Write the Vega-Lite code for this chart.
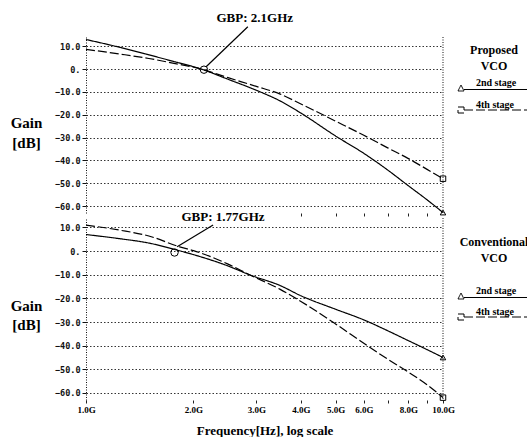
{
  "$schema": "https://vega.github.io/schema/vega-lite/v6.json",
  "background": "white",
  "padding": {"left": 10, "top": 12, "right": 0, "bottom": 0},
  "bounds": "flush",
  "spacing": 5,
  "config": {"view": {"stroke": null}, "font": "Liberation Serif"},
  "datasets": {
    "curves": [
      {"panel": "P", "stage": "2nd stage", "f": 1.0, "db": 12.9},
      {"panel": "P", "stage": "2nd stage", "f": 1.25, "db": 9.4},
      {"panel": "P", "stage": "2nd stage", "f": 1.5, "db": 6.2},
      {"panel": "P", "stage": "2nd stage", "f": 1.75, "db": 3.4},
      {"panel": "P", "stage": "2nd stage", "f": 2.1, "db": 0.0},
      {"panel": "P", "stage": "2nd stage", "f": 2.5, "db": -4.5},
      {"panel": "P", "stage": "2nd stage", "f": 3.0, "db": -9.3},
      {"panel": "P", "stage": "2nd stage", "f": 3.5, "db": -14.0},
      {"panel": "P", "stage": "2nd stage", "f": 4.0, "db": -19.3},
      {"panel": "P", "stage": "2nd stage", "f": 5.0, "db": -29.3},
      {"panel": "P", "stage": "2nd stage", "f": 6.0, "db": -36.9},
      {"panel": "P", "stage": "2nd stage", "f": 7.0, "db": -44.2},
      {"panel": "P", "stage": "2nd stage", "f": 8.0, "db": -51.1},
      {"panel": "P", "stage": "2nd stage", "f": 9.0, "db": -57.1},
      {"panel": "P", "stage": "2nd stage", "f": 10.0, "db": -62.8},
      {"panel": "P", "stage": "4th stage", "f": 1.0, "db": 8.6},
      {"panel": "P", "stage": "4th stage", "f": 1.25, "db": 6.5},
      {"panel": "P", "stage": "4th stage", "f": 1.5, "db": 4.6},
      {"panel": "P", "stage": "4th stage", "f": 1.75, "db": 2.6},
      {"panel": "P", "stage": "4th stage", "f": 2.1, "db": 0.0},
      {"panel": "P", "stage": "4th stage", "f": 2.5, "db": -3.8},
      {"panel": "P", "stage": "4th stage", "f": 3.0, "db": -7.6},
      {"panel": "P", "stage": "4th stage", "f": 3.5, "db": -11.0},
      {"panel": "P", "stage": "4th stage", "f": 4.0, "db": -15.3},
      {"panel": "P", "stage": "4th stage", "f": 5.0, "db": -22.8},
      {"panel": "P", "stage": "4th stage", "f": 6.0, "db": -29.0},
      {"panel": "P", "stage": "4th stage", "f": 7.0, "db": -34.5},
      {"panel": "P", "stage": "4th stage", "f": 8.0, "db": -39.2},
      {"panel": "P", "stage": "4th stage", "f": 9.0, "db": -43.8},
      {"panel": "P", "stage": "4th stage", "f": 10.0, "db": -48.0},
      {"panel": "C", "stage": "2nd stage", "f": 1.0, "db": 7.0},
      {"panel": "C", "stage": "2nd stage", "f": 1.25, "db": 5.2},
      {"panel": "C", "stage": "2nd stage", "f": 1.5, "db": 3.4},
      {"panel": "C", "stage": "2nd stage", "f": 1.78, "db": 0.6},
      {"panel": "C", "stage": "2nd stage", "f": 2.0, "db": -1.5},
      {"panel": "C", "stage": "2nd stage", "f": 2.5, "db": -6.3},
      {"panel": "C", "stage": "2nd stage", "f": 2.88, "db": -10.1},
      {"panel": "C", "stage": "2nd stage", "f": 3.5, "db": -14.6},
      {"panel": "C", "stage": "2nd stage", "f": 4.0, "db": -18.9},
      {"panel": "C", "stage": "2nd stage", "f": 5.0, "db": -24.6},
      {"panel": "C", "stage": "2nd stage", "f": 6.0, "db": -29.1},
      {"panel": "C", "stage": "2nd stage", "f": 7.0, "db": -33.7},
      {"panel": "C", "stage": "2nd stage", "f": 8.0, "db": -37.9},
      {"panel": "C", "stage": "2nd stage", "f": 9.0, "db": -41.6},
      {"panel": "C", "stage": "2nd stage", "f": 10.0, "db": -45.0},
      {"panel": "C", "stage": "4th stage", "f": 1.0, "db": 11.0},
      {"panel": "C", "stage": "4th stage", "f": 1.25, "db": 8.8},
      {"panel": "C", "stage": "4th stage", "f": 1.5, "db": 6.4},
      {"panel": "C", "stage": "4th stage", "f": 1.83, "db": 1.8},
      {"panel": "C", "stage": "4th stage", "f": 2.0, "db": 0.2},
      {"panel": "C", "stage": "4th stage", "f": 2.5, "db": -5.5},
      {"panel": "C", "stage": "4th stage", "f": 2.88, "db": -10.1},
      {"panel": "C", "stage": "4th stage", "f": 3.5, "db": -16.2},
      {"panel": "C", "stage": "4th stage", "f": 4.0, "db": -21.3},
      {"panel": "C", "stage": "4th stage", "f": 5.0, "db": -30.8},
      {"panel": "C", "stage": "4th stage", "f": 6.0, "db": -39.0},
      {"panel": "C", "stage": "4th stage", "f": 7.0, "db": -45.7},
      {"panel": "C", "stage": "4th stage", "f": 8.0, "db": -51.2},
      {"panel": "C", "stage": "4th stage", "f": 9.0, "db": -56.4},
      {"panel": "C", "stage": "4th stage", "f": 10.0, "db": -62.0}
    ],
    "gbp": [
      {"panel": "P", "f": 2.14, "db": -0.3},
      {"panel": "C", "f": 1.77, "db": -0.6}
    ],
    "arrows": [
      {"panel": "P", "f": 2.84, "db": 18.5, "f2": 2.17, "db2": 1.0},
      {"panel": "C", "f": 2.27, "db": 11.0, "f2": 1.8, "db2": 1.8}
    ],
    "labels": [
      {"panel": "P", "f": 2.97, "db": 22.2, "text": "GBP: 2.1GHz"},
      {"panel": "C", "f": 2.42, "db": 14.4, "text": "GBP: 1.77GHz"}
    ]
  },
  "resolve": {"scale": {"x": "independent", "y": "independent", "strokeDash": "independent", "shape": "independent"}},
  "vconcat": [
    {
      "width": 357,
      "height": 176,
      "layer": [
        {
          "data": {"name": "curves"},
          "transform": [{"filter": "datum.panel === 'P'"}],
          "mark": {"type": "line", "color": "black", "strokeWidth": 1.2, "interpolate": "monotone"},
          "encoding": {
            "x": {"field": "f", "type": "quantitative", "scale": {"type": "log", "domain": [1, 10], "nice": false},
              "axis": {"values": [4, 5, 6, 7, 8, 9], "tickCount": 10, "labels": false, "domain": false, "grid": false, "tickSize": 3, "tickColor": "#222", "title": null}},
            "y": {"field": "db", "type": "quantitative", "scale": {"domain": [-63, 14], "nice": false, "zero": false},
              "axis": {"values": [-60, -50, -40, -30, -20, -10, 0, 10], "tickCount": 10, "labelOverlap": false,
                "labelExpr": "datum.value === 0 ? '0.' : format(datum.value, '.1f')",
                "labelFont": "DejaVu Sans Mono", "labelFontSize": 8.5, "labelFontWeight": "bold", "labelColor": "#111", "labelPadding": 2,
                "grid": true, "gridDash": [1.5, 2], "gridColor": "#111", "gridOpacity": 0.85,
                "tickSize": 4, "tickColor": "#111", "domainDash": [1, 1.5], "domainColor": "#111",
                "title": ["Gain", "[dB]"], "titleAngle": 0, "titleAlign": "center", "titleBaseline": "alphabetic",
                "titleX": -60, "titleY": 90, "titleFont": "Liberation Serif", "titleFontSize": 15, "titleFontWeight": "bold",
                "titleLineHeight": 20, "titleColor": "black"}},
            "strokeDash": {"field": "stage", "type": "nominal",
              "scale": {"domain": ["2nd stage", "4th stage"], "range": [[1, 0], [9, 3]]},
              "legend": {"title": ["Proposed", "VCO"], "orient": "none", "legendX": 370, "legendY": 8, "padding": 0,
                "titleFont": "Liberation Serif", "titleFontSize": 12, "titleFontWeight": "bold", "titleColor": "black",
                "titleAnchor": "middle", "titleAlign": "center", "titleLineHeight": 16, "titlePadding": 10,
                "labelFont": "Liberation Serif", "labelFontSize": 10, "labelFontWeight": "bold", "labelColor": "black",
                "labelBaseline": "bottom", "labelOffset": 10,
                "symbolSize": 36, "symbolStrokeColor": "black", "symbolStrokeWidth": 1, "symbolFillColor": "transparent",
                "rowPadding": 7}}
          }
        },
        {
          "data": {"name": "curves"},
          "transform": [{"filter": "datum.panel === 'P' && datum.f > 100"}],
          "mark": {"type": "point", "color": "black", "filled": false, "size": 36, "strokeWidth": 1, "opacity": 1},
          "encoding": {
            "x": {"field": "f", "type": "quantitative"},
            "y": {"field": "db", "type": "quantitative"},
            "shape": {"field": "stage", "type": "nominal",
              "scale": {"domain": ["2nd stage", "4th stage"], "range": ["M-1,1L0,-1L1,1ZM1,0.5L23,0.5", "M-1,-1L1,-1L1,1L-1,1ZM1,0L23,0"]},
              "legend": {"title": ["Proposed", "VCO"], "orient": "none", "legendX": 370, "legendY": 8, "padding": 0,
                "titleFont": "Liberation Serif", "titleFontSize": 12, "titleFontWeight": "bold", "titleColor": "black",
                "titleAnchor": "middle", "titleAlign": "center", "titleLineHeight": 16, "titlePadding": 10,
                "labelFont": "Liberation Serif", "labelFontSize": 10, "labelFontWeight": "bold", "labelColor": "black",
                "labelBaseline": "bottom", "labelOffset": 10,
                "symbolSize": 36, "symbolStrokeColor": "black", "symbolStrokeWidth": 1, "symbolFillColor": "transparent",
                "rowPadding": 7}}
          }
        },
        {
          "data": {"name": "curves"},
          "transform": [{"filter": "datum.panel === 'P' && datum.f === 10 && datum.stage === '2nd stage'"}],
          "mark": {"type": "point", "shape": "triangle-up", "color": "black", "filled": false, "size": 30, "strokeWidth": 1, "opacity": 1},
          "encoding": {"x": {"field": "f", "type": "quantitative"}, "y": {"field": "db", "type": "quantitative"}}
        },
        {
          "data": {"name": "curves"},
          "transform": [{"filter": "datum.panel === 'P' && datum.f === 10 && datum.stage === '4th stage'"}],
          "mark": {"type": "point", "shape": "square", "color": "black", "filled": false, "size": 30, "strokeWidth": 1, "opacity": 1},
          "encoding": {"x": {"field": "f", "type": "quantitative"}, "y": {"field": "db", "type": "quantitative"}}
        },
        {
          "data": {"name": "gbp"},
          "transform": [{"filter": "datum.panel === 'P'"}],
          "mark": {"type": "point", "shape": "circle", "color": "black", "filled": false, "size": 55, "strokeWidth": 1, "opacity": 1},
          "encoding": {"x": {"field": "f", "type": "quantitative"}, "y": {"field": "db", "type": "quantitative"}}
        },
        {
          "data": {"name": "arrows"},
          "transform": [{"filter": "datum.panel === 'P'"}],
          "mark": {"type": "rule", "color": "black", "strokeWidth": 1.2},
          "encoding": {"x": {"field": "f", "type": "quantitative"}, "y": {"field": "db", "type": "quantitative"},
            "x2": {"field": "f2"}, "y2": {"field": "db2"}}
        },
        {
          "data": {"name": "labels"},
          "transform": [{"filter": "datum.panel === 'P'"}],
          "mark": {"type": "text", "font": "Liberation Serif", "fontWeight": "bold", "fontSize": 13, "baseline": "middle", "color": "black"},
          "encoding": {"x": {"field": "f", "type": "quantitative"}, "y": {"field": "db", "type": "quantitative"}, "text": {"field": "text"}}
        },
        {
          "data": {"values": [{"f": 10}]},
          "mark": {"type": "rule", "color": "#111", "strokeDash": [1, 1.5], "strokeWidth": 1},
          "encoding": {"x": {"field": "f", "type": "quantitative"}}
        }
      ]
    },
    {
      "width": 357,
      "height": 182,
      "layer": [
        {
          "data": {"name": "curves"},
          "transform": [{"filter": "datum.panel === 'C'"}],
          "mark": {"type": "line", "color": "black", "strokeWidth": 1.2, "interpolate": "monotone"},
          "encoding": {
            "x": {"field": "f", "type": "quantitative", "scale": {"type": "log", "domain": [1, 10], "nice": false},
              "axis": {"values": [1, 2, 3, 4, 5, 6, 7, 8, 9, 10], "tickCount": 12,
                "labelExpr": "datum.value == 7 || datum.value == 9 ? '' : format(datum.value, '.1f') + 'G'",
                "labelFont": "Liberation Serif", "labelFontWeight": "bold", "labelFontSize": 9, "labelColor": "black",
                "labelPadding": 2, "labelOverlap": false, "labelFlush": false,
                "tickSize": 3, "tickColor": "#222", "domain": false, "grid": false,
                "title": "Frequency[Hz], log scale", "titleFont": "Liberation Serif", "titleFontWeight": "bold",
                "titleFontSize": 13, "titlePadding": 10, "titleColor": "black"}},
            "y": {"field": "db", "type": "quantitative", "scale": {"domain": [-63, 14], "nice": false, "zero": false},
              "axis": {"values": [-60, -50, -40, -30, -20, -10, 0, 10], "tickCount": 10, "labelOverlap": false,
                "labelExpr": "datum.value === 0 ? '0.' : format(datum.value, '.1f')",
                "labelFont": "DejaVu Sans Mono", "labelFontSize": 8.5, "labelFontWeight": "bold", "labelColor": "#111", "labelPadding": 2,
                "grid": true, "gridDash": [1.5, 2], "gridColor": "#111", "gridOpacity": 0.85,
                "tickSize": 4, "tickColor": "#111", "domainDash": [1, 1.5], "domainColor": "#111",
                "title": ["Gain", "[dB]"], "titleAngle": 0, "titleAlign": "center", "titleBaseline": "alphabetic",
                "titleX": -60, "titleY": 92, "titleFont": "Liberation Serif", "titleFontSize": 15, "titleFontWeight": "bold",
                "titleLineHeight": 19, "titleColor": "black"}},
            "strokeDash": {"field": "stage", "type": "nominal",
              "scale": {"domain": ["2nd stage", "4th stage"], "range": [[1, 0], [9, 3]]},
              "legend": {"title": ["Conventional", "VCO"], "orient": "none", "legendX": 370, "legendY": 19, "padding": 0,
                "titleFont": "Liberation Serif", "titleFontSize": 12, "titleFontWeight": "bold", "titleColor": "black",
                "titleAnchor": "middle", "titleAlign": "center", "titleLineHeight": 16, "titlePadding": 26,
                "labelFont": "Liberation Serif", "labelFontSize": 10, "labelFontWeight": "bold", "labelColor": "black",
                "labelBaseline": "bottom", "labelOffset": 10,
                "symbolSize": 36, "symbolStrokeColor": "black", "symbolStrokeWidth": 1, "symbolFillColor": "transparent",
                "rowPadding": 6}}
          }
        },
        {
          "data": {"name": "curves"},
          "transform": [{"filter": "datum.panel === 'C' && datum.f > 100"}],
          "mark": {"type": "point", "color": "black", "filled": false, "size": 36, "strokeWidth": 1, "opacity": 1},
          "encoding": {
            "x": {"field": "f", "type": "quantitative"},
            "y": {"field": "db", "type": "quantitative"},
            "shape": {"field": "stage", "type": "nominal",
              "scale": {"domain": ["2nd stage", "4th stage"], "range": ["M-1,1L0,-1L1,1ZM1,0.5L23,0.5", "M-1,-1L1,-1L1,1L-1,1ZM1,0L23,0"]},
              "legend": {"title": ["Conventional", "VCO"], "orient": "none", "legendX": 370, "legendY": 19, "padding": 0,
                "titleFont": "Liberation Serif", "titleFontSize": 12, "titleFontWeight": "bold", "titleColor": "black",
                "titleAnchor": "middle", "titleAlign": "center", "titleLineHeight": 16, "titlePadding": 26,
                "labelFont": "Liberation Serif", "labelFontSize": 10, "labelFontWeight": "bold", "labelColor": "black",
                "labelBaseline": "bottom", "labelOffset": 10,
                "symbolSize": 36, "symbolStrokeColor": "black", "symbolStrokeWidth": 1, "symbolFillColor": "transparent",
                "rowPadding": 6}}
          }
        },
        {
          "data": {"name": "curves"},
          "transform": [{"filter": "datum.panel === 'C' && datum.f === 10 && datum.stage === '2nd stage'"}],
          "mark": {"type": "point", "shape": "triangle-up", "color": "black", "filled": false, "size": 30, "strokeWidth": 1, "opacity": 1},
          "encoding": {"x": {"field": "f", "type": "quantitative"}, "y": {"field": "db", "type": "quantitative"}}
        },
        {
          "data": {"name": "curves"},
          "transform": [{"filter": "datum.panel === 'C' && datum.f === 10 && datum.stage === '4th stage'"}],
          "mark": {"type": "point", "shape": "square", "color": "black", "filled": false, "size": 30, "strokeWidth": 1, "opacity": 1},
          "encoding": {"x": {"field": "f", "type": "quantitative"}, "y": {"field": "db", "type": "quantitative"}}
        },
        {
          "data": {"name": "gbp"},
          "transform": [{"filter": "datum.panel === 'C'"}],
          "mark": {"type": "point", "shape": "circle", "color": "black", "filled": false, "size": 55, "strokeWidth": 1, "opacity": 1},
          "encoding": {"x": {"field": "f", "type": "quantitative"}, "y": {"field": "db", "type": "quantitative"}}
        },
        {
          "data": {"name": "arrows"},
          "transform": [{"filter": "datum.panel === 'C'"}],
          "mark": {"type": "rule", "color": "black", "strokeWidth": 1.2},
          "encoding": {"x": {"field": "f", "type": "quantitative"}, "y": {"field": "db", "type": "quantitative"},
            "x2": {"field": "f2"}, "y2": {"field": "db2"}}
        },
        {
          "data": {"name": "labels"},
          "transform": [{"filter": "datum.panel === 'C'"}],
          "mark": {"type": "text", "font": "Liberation Serif", "fontWeight": "bold", "fontSize": 13, "baseline": "middle", "color": "black"},
          "encoding": {"x": {"field": "f", "type": "quantitative"}, "y": {"field": "db", "type": "quantitative"}, "text": {"field": "text"}}
        },
        {
          "data": {"values": [{"f": 10}]},
          "mark": {"type": "rule", "color": "#111", "strokeDash": [1, 1.5], "strokeWidth": 1},
          "encoding": {"x": {"field": "f", "type": "quantitative"}}
        }
      ]
    }
  ]
}
